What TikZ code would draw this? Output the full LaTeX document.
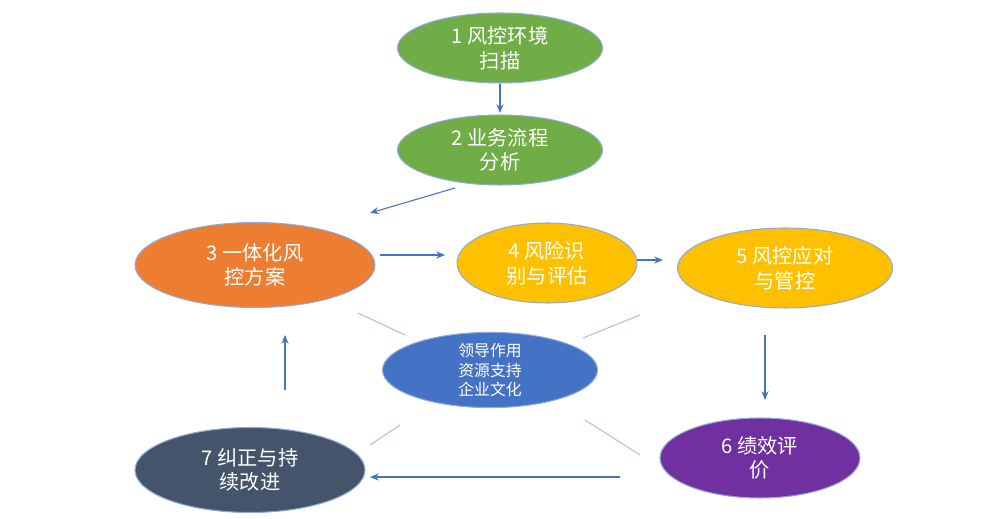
\documentclass[tikz,border=0pt]{standalone}
\usepackage{fontspec}
\newfontfamily\cjk{Noto Sans CJK SC}
\usetikzlibrary{shapes.geometric,arrows.meta}
\definecolor{cgreen}{HTML}{70AD47}
\definecolor{corange}{HTML}{ED7D31}
\definecolor{cyellow}{HTML}{FFC000}
\definecolor{cblue}{HTML}{4472C4}
\definecolor{cpurple}{HTML}{7030A0}
\definecolor{cslate}{HTML}{44546A}
\begin{document}
\begin{tikzpicture}[x=0.02cm,y=-0.02cm,
  stage/.style={ellipse, draw=cblue!60, line width=0.6pt, text=white, align=center, inner sep=0pt, font=\cjk\fontsize{11.5}{14}\selectfont},
  flow/.style={-{Stealth[length=5pt,width=4pt]}, cblue, line width=0.6pt},
  link/.style={cblue!45, line width=0.6pt}]
\useasboundingbox (0,0) rectangle (1000,519);
% stages
\node[stage, fill=cgreen, minimum width=4.1cm, minimum height=1.4cm] (scan) at (500,48) {1 风控环境\\扫描};
\node[stage, fill=cgreen, minimum width=4.1cm, minimum height=1.4cm] (flowana) at (500,150) {2 业务流程\\分析};
\node[stage, fill=corange, minimum width=4.8cm, minimum height=1.7cm] (plan) at (255,265) {3 一体化风\\控方案};
\node[stage, fill=cyellow, minimum width=3.6cm, minimum height=1.6cm] (risk) at (547,263) {4 风险识\\别与评估};
\node[stage, fill=cyellow, minimum width=4.3cm, minimum height=1.6cm] (ctrl) at (785,268) {5 风控应对\\与管控};
\node[stage, fill=cpurple, minimum width=4.0cm, minimum height=1.6cm] (eval) at (760,458) {6 绩效评\\价};
\node[stage, fill=cslate, minimum width=4.6cm, minimum height=1.7cm] (fix) at (250,470) {7 纠正与持\\续改进};
\node[stage, fill=cblue, minimum width=4.3cm, minimum height=1.4cm, font=\cjk\fontsize{9}{11}\selectfont] (core) at (490,370) {领导作用\\资源支持\\企业文化};
% arrow ends
\coordinate (a1) at (500,84); \coordinate (b1) at (500,113);
\coordinate (a2) at (455,188); \coordinate (b2) at (370,213);
\coordinate (a3) at (380,255); \coordinate (b3) at (445,255);
\coordinate (a4) at (637,260); \coordinate (b4) at (663,260);
\coordinate (a5) at (765,335); \coordinate (b5) at (765,400);
\coordinate (a6) at (620,477); \coordinate (b6) at (370,477);
\coordinate (a7) at (285,390); \coordinate (b7) at (285,335);
\foreach \i in {1,...,7} {\draw[flow] (a\i) -- (b\i);}
% links to core
\draw[link] (358,313) -- (405,335);
\draw[link] (583,338) -- (640,315);
\draw[link] (370,445) -- (400,425);
\draw[link] (585,420) -- (640,455);
\end{tikzpicture}
\end{document}
